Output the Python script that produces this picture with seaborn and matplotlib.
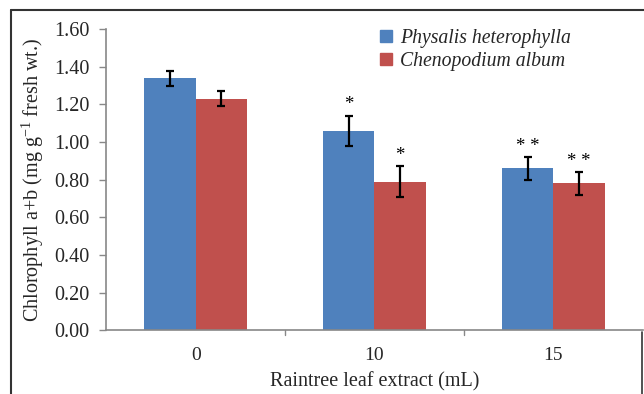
import matplotlib
matplotlib.use("Agg")
import matplotlib.pyplot as plt
import seaborn as sns
import pandas as pd
from matplotlib.lines import Line2D

categories = ["0", "10", "15"]
species = ["Physalis heterophylla", "Chenopodium album"]
physalis = [1.34, 1.06, 0.86]
physalis_err = [0.04, 0.08, 0.06]
chenopodium = [1.23, 0.79, 0.78]
chenopodium_err = [0.04, 0.08, 0.06]
physalis_sig = ["", "*", "* *"]
chenopodium_sig = ["", "*", "* *"]
yticks = [0.0, 0.2, 0.4, 0.6, 0.8, 1.0, 1.2, 1.4, 1.6]

df = pd.DataFrame({
    "extract": categories * 2,
    "species": [species[0]] * 3 + [species[1]] * 3,
    "value": physalis + chenopodium,
})
errs = physalis_err + chenopodium_err
sigs = physalis_sig + chenopodium_sig

sns.set_theme(style="white")
plt.rcParams["font.family"] = ["Liberation Serif", "DejaVu Serif"]
plt.rcParams["mathtext.fontset"] = "custom"
plt.rcParams["mathtext.rm"] = "Liberation Serif"
plt.rcParams["mathtext.it"] = "Liberation Serif:italic"

fig = plt.figure(figsize=(6.44, 3.94), dpi=100)
ax = fig.add_axes([0.165, 0.162, 0.833, 0.764])

colors = ["#4F81BD", "#C0504D"]
sns.barplot(data=df, x="extract", y="value", hue="species", hue_order=species,
            order=categories, palette=colors, errorbar=None, width=0.575,
            saturation=1, ax=ax, edgecolor="none", linewidth=0)

bars = [p for p in ax.patches if p.get_height() > 0][:6]
for p, e, s in zip(bars, errs, sigs):
    xc = p.get_x() + p.get_width() / 2
    h = p.get_height()
    ax.errorbar(xc, h, yerr=e, fmt="none", ecolor="black", elinewidth=1.6,
                capsize=3, capthick=1.6)
    if s:
        ax.text(xc, h + e + 0.012, s, ha="center", va="bottom", fontsize=13.5,
                color="black")

ax.set_ylim(0, 1.6)
ax.set_xlim(-0.5, 2.5)
ax.set_yticks(yticks)
ax.set_yticklabels([f"{t:.2f}" for t in yticks], fontsize=14.5)
ax.set_xticks([0, 1, 2])
ax.set_xticklabels(categories, fontsize=14)
ax.tick_params(axis="x", length=0, pad=12)
ax.tick_params(axis="y", length=5, width=1, color="#888888", direction="out", pad=7, left=True)
for xb in [0.5, 1.5]:
    ax.plot([xb, xb], [0, -0.025], color="#888888", lw=1, clip_on=False)
ax.set_xlabel("Raintree leaf extract (mL)", fontsize=14.5, labelpad=6)
ax.set_ylabel("Chlorophyll a+b (mg g$^{\\mathregular{-1}}$ fresh wt.)", fontsize=14.5, labelpad=6)

for sp in ["top", "right"]:
    ax.spines[sp].set_visible(False)
for sp in ["left", "bottom"]:
    ax.spines[sp].set_color("#888888")
    ax.spines[sp].set_linewidth(1.2)

handles = [plt.Rectangle((0, 0), 1, 1, color=c) for c in colors]
leg = ax.legend(handles, species, loc="upper left", bbox_to_anchor=(0.478, 1.06),
                frameon=False, prop={"style": "italic", "size": 14.2},
                handlelength=0.6, handleheight=0.6, handletextpad=0.4,
                labelspacing=0.2)

# outer frame
fig.add_artist(Line2D([11/644, 1], [1-10/394, 1-10/394], color="#333333", lw=1.5, transform=fig.transFigure))
fig.add_artist(Line2D([11/644, 11/644], [0, 1-10/394], color="#333333", lw=1.5, transform=fig.transFigure))
fig.add_artist(Line2D([642/644, 642/644], [0, 1-332/394], color="#333333", lw=1.2, transform=fig.transFigure))

fig.savefig("out.png", dpi=100)
